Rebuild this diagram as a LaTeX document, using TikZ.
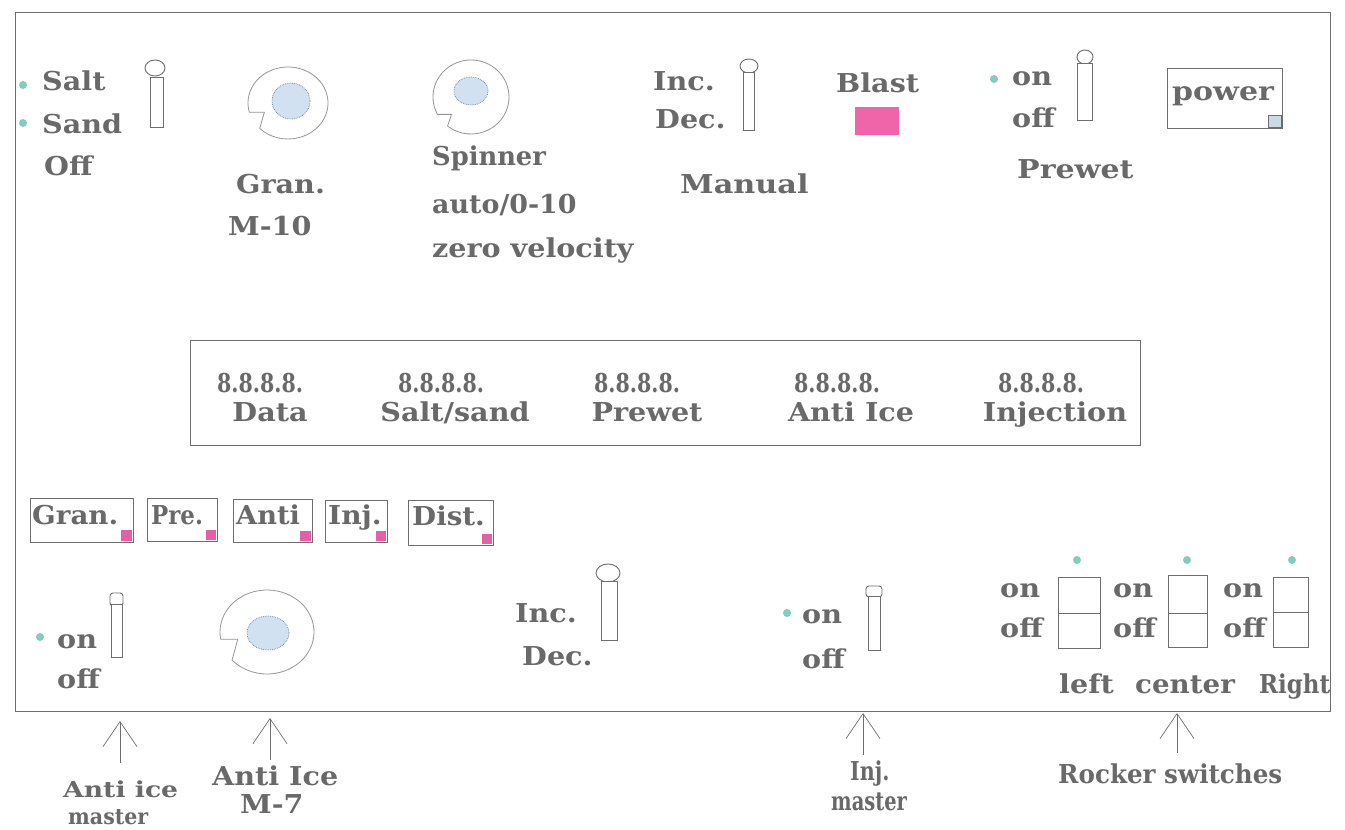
\documentclass[tikz,border=0pt]{standalone}
\usepackage{fontspec}
\setmainfont{DejaVu Serif}[FakeStretch=1.1]
\usetikzlibrary{arrows.meta,calc}
\definecolor{txtgray}{RGB}{105,105,105}
\definecolor{linegray}{RGB}{110,110,110}
\definecolor{knobgray}{RGB}{150,150,150}
\definecolor{innerblue}{RGB}{210,225,242}
\definecolor{innerline}{RGB}{120,140,170}
\definecolor{dotteal}{RGB}{130,205,190}
\definecolor{blastpink}{RGB}{240,100,170}
\definecolor{sqpink}{RGB}{228,95,165}
\definecolor{sqblue}{RGB}{200,218,228}
\newcommand\hs[2]{\scalebox{#1}[1]{#2}}
% knob: center x, center y, outer rx, outer ry, notch start, notch end, notch depth, inner cx, inner cy (inner radii in \irx,\iry)
\newcommand\drawknob[9]{%
  \coordinate (kc) at (#1,#2);
  \coordinate (kA) at ($(kc)+({#3*cos(#5)*1pt},{#4*sin(#5)*1pt})$);
  \coordinate (kB) at ($(kA)+({#7*1pt},0pt)$);
  \draw[knobline] (kB) -- (kA) arc[start angle=#5, delta angle={-(360-(#6-#5))}, x radius=#3pt, y radius=#4pt] -- cycle;
  \draw[innerline, fill=innerblue, densely dotted, line width=0.8pt] (#8,#9) ellipse[x radius={\irx*1pt}, y radius={\iry*1pt}];
}
\begin{document}
\begin{tikzpicture}[x=1pt,y=-1pt,
  lbl/.style={anchor=base west, inner sep=0pt, text=txtgray, font=\fontsize{26}{30}\selectfont\bfseries},
  lbls/.style={lbl, font=\fontsize{22}{26}\selectfont\bfseries},
  lblc/.style={lbl, anchor=base},
  frameline/.style={draw=linegray, line width=0.9pt},
  knobline/.style={draw=knobgray, line width=0.8pt},
  lever/.style={draw=linegray, line width=0.9pt, fill=white},
  dotc/.style={fill=dotteal},
  arr/.style={draw=linegray, line width=0.7pt, -{Straight Barb[length=25pt, width=34pt, line width=0.7pt]}}]
\useasboundingbox (0,0) rectangle (1345,830);
\clip (0,0) rectangle (1345,830);
\fill[white] (0,0) rectangle (1345,830);

% main frame
\draw[frameline] (15,12) rectangle (1330,711);

% ---------- top row ----------
\fill[dotc] (23,85) circle[radius=4pt];
\fill[dotc] (23,123) circle[radius=4pt];
\node[lbl] (salt) at (42,90) {Salt};
\node[lbl] (sand) at (42,133) {Sand};
\node[lbl] (off1) at (44,175) {Off};
\draw[lever] (155,68) ellipse[x radius=10pt, y radius=8pt];
\draw[lever] (150,77) rectangle (163,127);

% Gran knob
\def\irx{19}\def\iry{18}
\drawknob{288}{103}{40}{36}{195}{225}{15}{291}{101}
\node[lbl] (gran) at (236,193) {Gran.};
\node[lbl] (m10) at (228,235) {M-10};

% Spinner knob
\def\irx{17}\def\iry{14}
\drawknob{471}{97}{38}{37}{208}{232}{14}{471}{91}
\node[lbl] (spinner) at (432,165) {\hs{0.9}{Spinner}};
\node[lbl] (auto) at (432,213) {\hs{0.94}{auto/0-10}};
\node[lbl] (zero) at (432,257) {zero velocity};

% Manual inc/dec
\node[lbl] (inc1) at (653,90) {Inc.};
\node[lbl] (dec1) at (655,128) {Dec.};
\draw[lever] (749,66) ellipse[x radius=9pt, y radius=7pt];
\draw[lever] (743,72) rectangle (754,130);
\node[lbl] (manual) at (680,193) {\hs{1.06}{Manual}};

% Blast
\node[lbl] (blast) at (836,92) {Blast};
\fill[blastpink] (855,107) rectangle (899,135);

% Prewet
\fill[dotc] (994,79) circle[radius=4pt];
\node[lbl] (on1) at (1012,85) {on};
\node[lbl] (off2) at (1012,127) {off};
\draw[lever] (1085,57) ellipse[x radius=8pt, y radius=7pt];
\draw[lever] (1077,63) rectangle (1092,120);
\node[lbl] (prewet) at (1017,178) {\hs{1.05}{Prewet}};

% power
\draw[frameline] (1167,68) rectangle (1282,128);
\node[lbl] (power) at (1172,100) {\hs{1.05}{power}};
\draw[draw=linegray, fill=sqblue, line width=0.6pt] (1268,115) rectangle (1281,127);

% ---------- display ----------
\draw[frameline] (190,340) rectangle (1140,445);
\node[lblc] (d1) at (260,392) {\hs{0.72}{8.8.8.8.}};
\node[lblc] (d2) at (441,392) {\hs{0.72}{8.8.8.8.}};
\node[lblc] (d3) at (637,392) {\hs{0.72}{8.8.8.8.}};
\node[lblc] (d4) at (837,392) {\hs{0.72}{8.8.8.8.}};
\node[lblc] (d5) at (1041,392) {\hs{0.72}{8.8.8.8.}};
\node[lblc] (l1) at (270,421) {Data};
\node[lblc] (l2) at (455,421) {Salt/sand};
\node[lblc] (l3) at (647,421) {Prewet};
\node[lblc] (l4) at (851,421) {Anti Ice};
\node[lblc] (l5) at (1055,421) {Injection};

% ---------- buttons ----------
\draw[frameline] (30,498) rectangle (133,542);
\draw[frameline] (147,498) rectangle (217,541);
\draw[frameline] (233,499) rectangle (312,542);
\draw[frameline] (325,500) rectangle (387,542);
\draw[frameline] (408,500) rectangle (493,545);
\node[lbl] (bgran) at (32,524) {\hs{0.97}{Gran.}};
\node[lbl] (bpre) at (151,524) {\hs{0.8}{Pre.}};
\node[lbl] (banti) at (236,524) {\hs{0.95}{Anti}};
\node[lbl] (binj) at (328,524) {\hs{0.98}{Inj.}};
\node[lbl] (bdist) at (412,525) {\hs{0.97}{Dist.}};
\fill[sqpink] (121,530) rectangle (132,541);
\fill[sqpink] (206,530) rectangle (216,540);
\fill[sqpink] (300,531) rectangle (311,541);
\fill[sqpink] (376,531) rectangle (386,541);
\fill[sqpink] (482,534) rectangle (492,544);

% ---------- bottom row ----------
\fill[dotc] (40,637) circle[radius=4pt];
\node[lbl] (on2) at (57,648) {on};
\node[lbl] (off3) at (57,688) {off};
\draw[lever, rounded corners=3pt] (110,593) rectangle (123,606);
\draw[lever] (111,604) rectangle (122,657);

% Anti ice knob
\def\irx{21}\def\iry{17}
\drawknob{267}{632}{47}{42}{190}{222}{17}{268}{633}

% Inc/Dec bottom
\node[lbl] (inc2) at (515,622) {Inc.};
\node[lbl] (dec2) at (522,665) {Dec.};
\draw[lever] (608,573) ellipse[x radius=12pt, y radius=9pt];
\draw[lever] (601,581) rectangle (617,640);

% Inj master
\fill[dotc] (787,613) circle[radius=4pt];
\node[lbl] (on3) at (802,623) {on};
\node[lbl] (off4) at (802,668) {off};
\draw[lever, rounded corners=3pt] (866,586) rectangle (882,597);
\draw[lever] (868,596) rectangle (880,650);

% Rocker switches
\fill[dotc] (1077,560) circle[radius=4pt];
\fill[dotc] (1187,560) circle[radius=4pt];
\fill[dotc] (1292,560) circle[radius=4pt];
\node[lbl] (ron1) at (1000,597) {on};
\node[lbl] (roff1) at (1000,637) {off};
\node[lbl] (ron2) at (1113,597) {on};
\node[lbl] (roff2) at (1113,637) {off};
\node[lbl] (ron3) at (1223,597) {on};
\node[lbl] (roff3) at (1223,637) {off};
\draw[lever] (1058,577) rectangle (1100,648);
\draw[linegray, line width=0.9pt] (1058,613) -- (1100,613);
\draw[lever] (1168,575) rectangle (1207,647);
\draw[linegray, line width=0.9pt] (1168,613) -- (1207,613);
\draw[lever] (1273,577) rectangle (1308,647);
\draw[linegray, line width=0.9pt] (1273,612) -- (1308,612);
\node[lbl] (left) at (1059,693) {left};
\node[lbl] (center) at (1135,693) {\hs{0.97}{center}};
\node[lbl] (right) at (1259,693) {\hs{0.8}{Right}};

% ---------- callouts below ----------
\node[lbls] (aim1) at (63,797) {\hs{1.1}{Anti ice}};
\node[lbls] (aim2) at (68,824) {\hs{0.85}{master}};
\node[lbl] (ai1) at (212,785) {Anti Ice};
\node[lbl] (ai2) at (240,813) {M-7};
\node[lbl] (ij1) at (850,780) {\hs{0.72}{Inj.}};
\node[lbl] (ij2) at (831,810) {\hs{0.68}{master}};
\node[lbl] (rock) at (1058,783) {\hs{0.86}{Rocker switches}};

\coordinate (aimtail) at (120,763);
\coordinate (aimtip) at (120,721);
\coordinate (aitail) at (270,760);
\coordinate (aitip) at (270,718);
\coordinate (ijtail) at (863,755);
\coordinate (ijtip) at (863,713);
\coordinate (rocktail) at (1177,753);
\coordinate (rocktip) at (1177,713);
\draw[arr] (aimtail) -- (aimtip);
\draw[arr] (aitail) -- (aitip);
\draw[arr] (ijtail) -- (ijtip);
\draw[arr] (rocktail) -- (rocktip);
\end{tikzpicture}
\end{document}
